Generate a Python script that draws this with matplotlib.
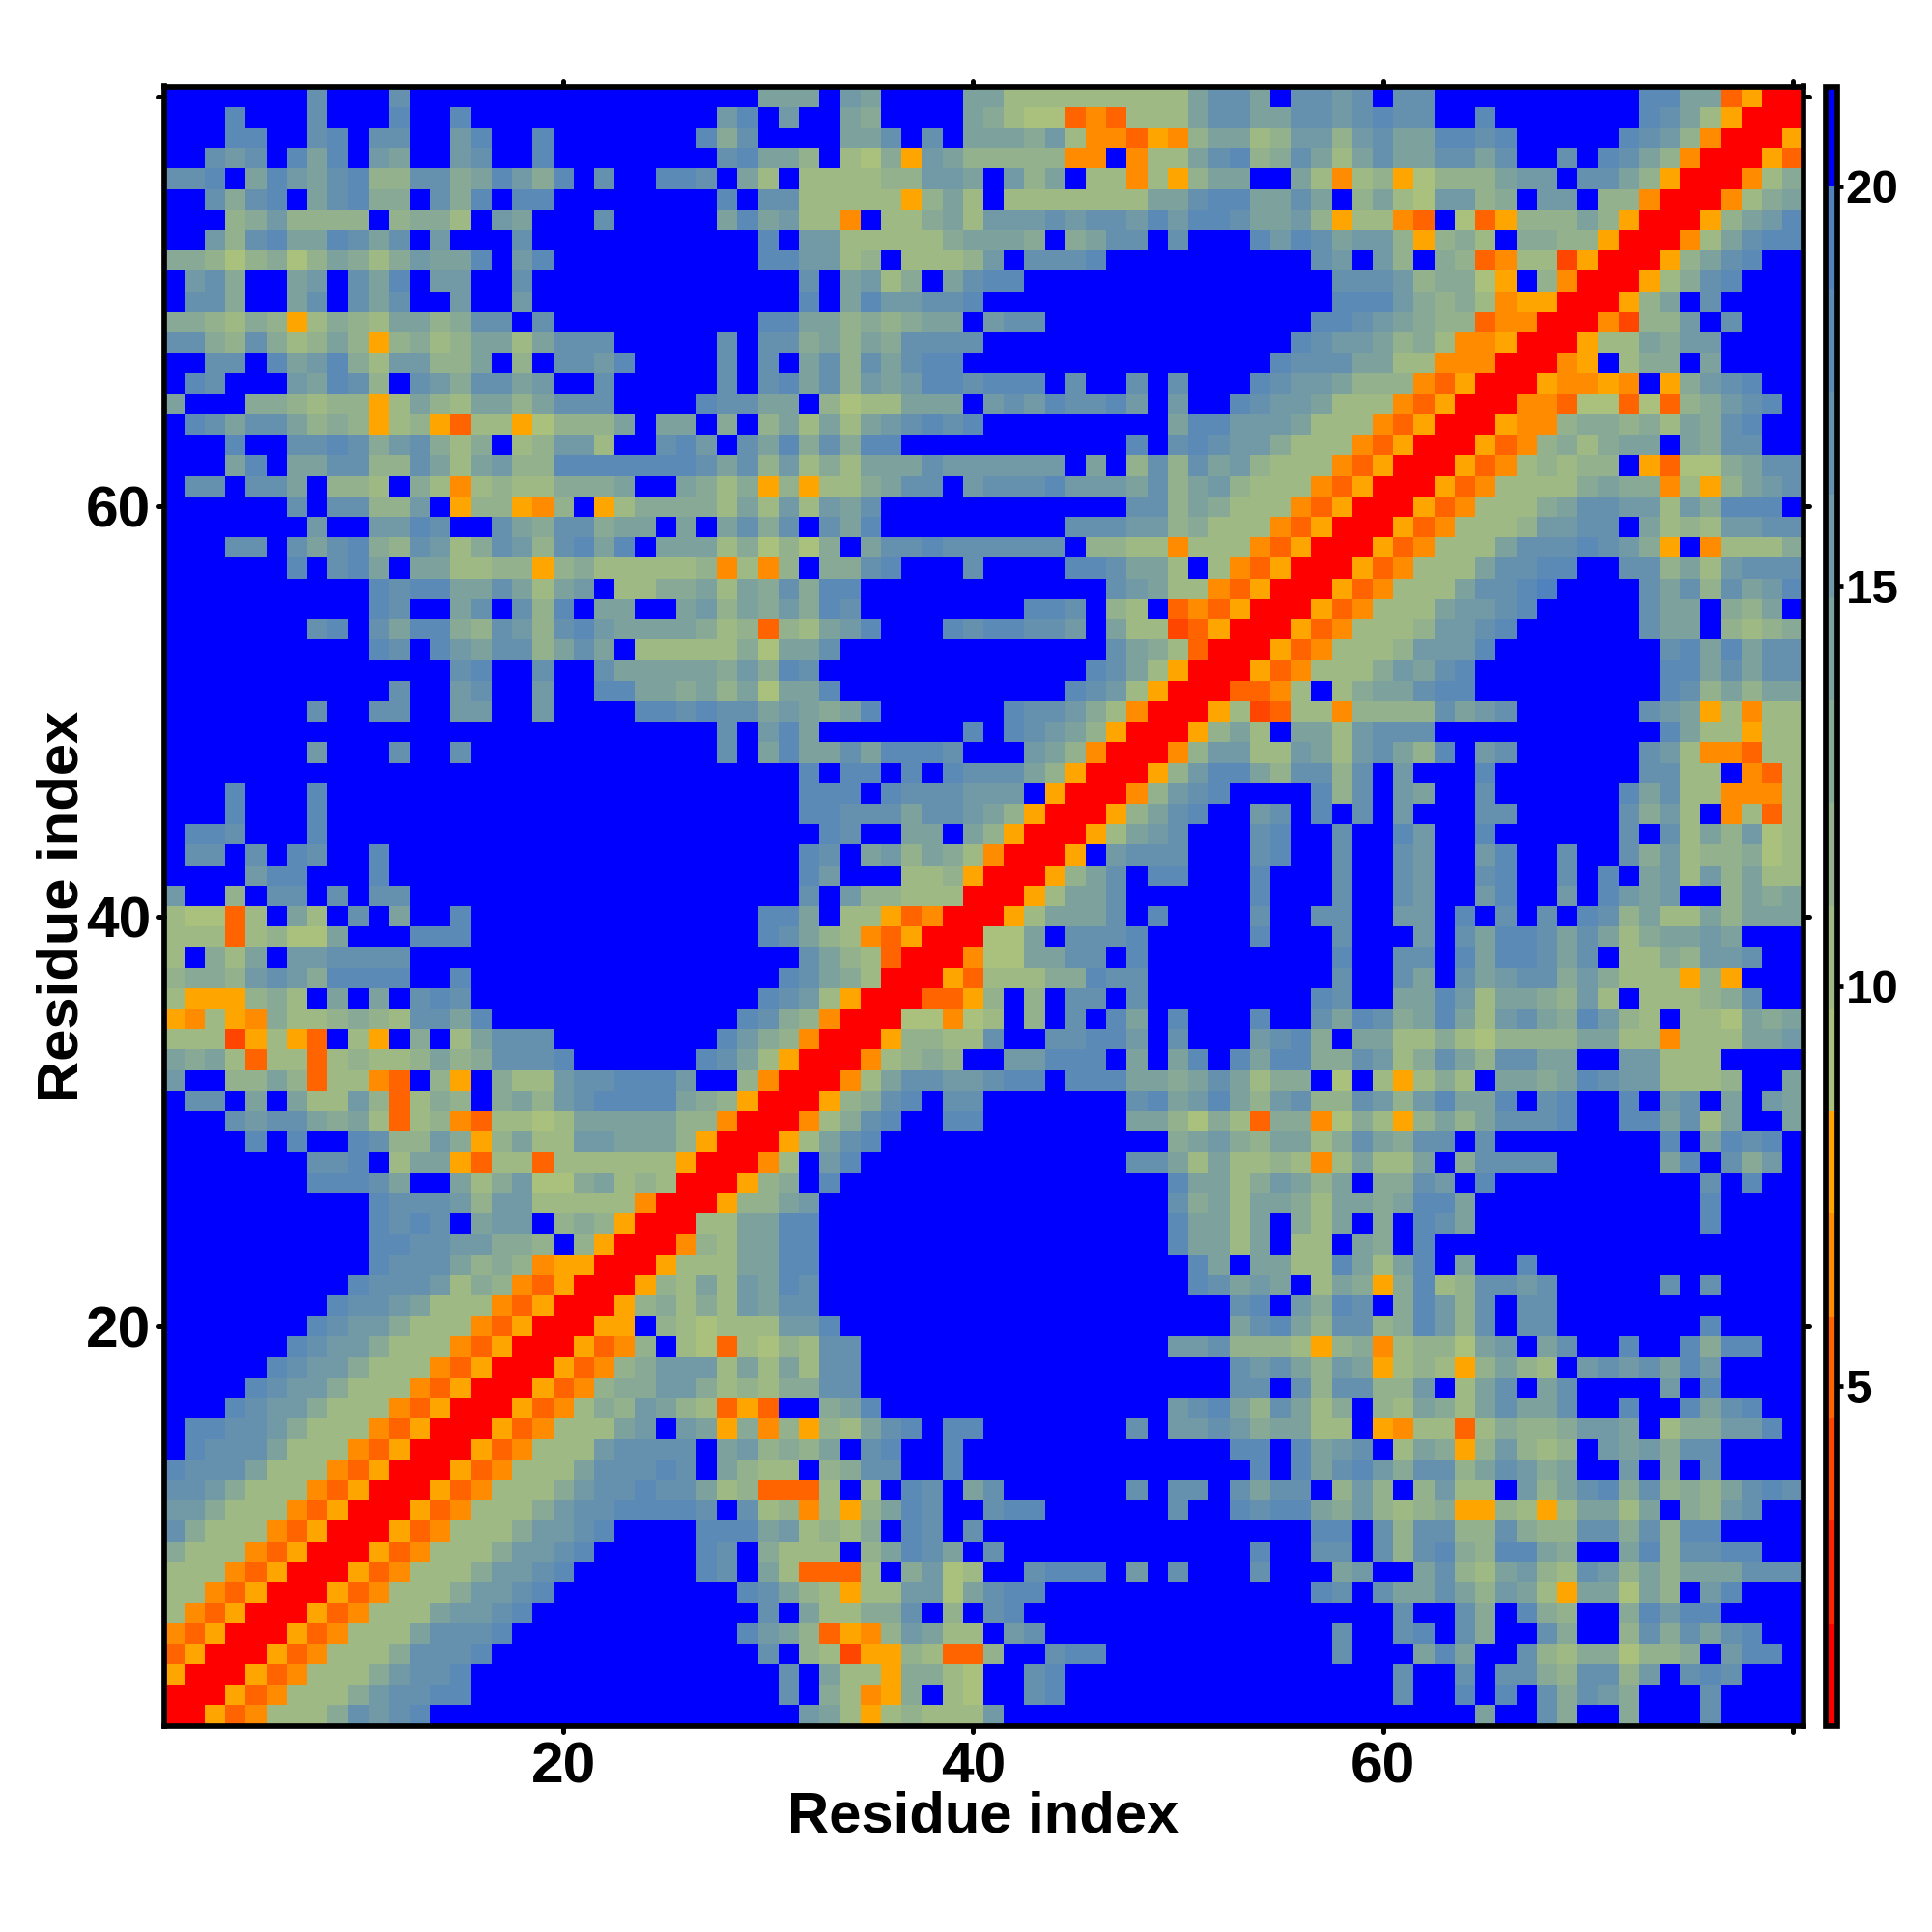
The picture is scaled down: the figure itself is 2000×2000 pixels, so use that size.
import numpy as np
import matplotlib
matplotlib.use("Agg")
import matplotlib.pyplot as plt
from matplotlib.colors import ListedColormap, BoundaryNorm
from matplotlib.markers import MarkerStyle, TICKLEFT, TICKRIGHT, TICKUP, TICKDOWN

plt.rcParams['font.family'] = ['Liberation Sans', 'DejaVu Sans']
plt.rcParams['font.weight'] = 'bold'

# distance classes, one hex digit per cell (0 = red ... f = blue)
# rows run from residue 80 down, columns from residue 1; spaces are only for reading
rows_80_54 = [
    "fffffffcfffcffffffffffffff fffaaafbaffffaa777777777acc afccbcfccffffffffffddaa3500",
    "fffdfffcfffdffdfffffffffff fbdfbffa9ffffa9766343777acc aaccbcdccffdfffffffdca75000",
    "fffddffcdfccffbdffdfffffff d9cffffaacfcfaaa9b7443548aa 78bb8bcaaddcdfffffdcb840005",
    "ffcbcfdadfbaffbcffdfffffff fcdaa8f7695ba8888844f477acd 89ca7acaaccacffcfdca8400053",
    "ccdfadbacd88cc9adb9dfcffdd cfa7f777788bbafb8af774758aa ffa747856888abbfcca85000479",
    "ffc9cdfacd99fc9dfddfffffff fdfcc7777758a7f7777777aacdd aacaf8a76bb89fbbf884000479a",
    "fff89b8888f8997fbafffcffff fadab774f779a7bbbcbccbdbddc aab857743f635888a8500058abd",
    "ffb8cdaadcacfbfffcffffffff fffdfbb777779aaa9f9accfcfff dbdcabb85897f9988500047acdd",
    "99868968a979baadfbdfffffff fffddbb78f7778bfcccdfffffff fffcbfb8f9834772500058acdff",
    "fbc9ffabfcadfbbffcffffffff fffffcfab79facddfffffffffff ffffcccb89965f84000579cdfff",
    "fcc9ffacfcacffbffbffffffff fffffdfadbbccdfffffffffffff ffffdddb989745500058afcffff",
    "99879857987aa89ccfcfffffff fffddaa8989aafbccffffffffff fffddcba9883440004288bfcfff",
    "cc98c978a858978aa7acccffff fcfcc9a8a9ccccfffffffffffff ffdcbba897445000577a9bbffff",
    "ffccfdabd97bb88af8fccbdfff fcfcfac8cacddffffffffffffff fdcccaa7744400045f799faffff",
    "fdcfffbadc8fcb9ccabffcffff fcfcdac8babddcdddfcffcfcfff dcbba88843500054454f59bcdff",
    "afff99878857a87aa8acccffff dccaaf8677aaafbcbdccdbfbffd cbba7774350004436636389bcdf",
    "fdcacca898578537756888afaa f9f8a7a7abcdcdfffffffffaddb bba777435000544899897a9cdff",
    "fffdffccdc9bc979f78bb7ffcd bfcad9c9ddfffffffffffdfcdcb b97774350005348979aafa9ccff",
    "fffadfaacc88ca7ab88ddddddd cac8b797aaacbbbbbbfaf8c8cab 877743500053478788f53669acc",
    "fccfccaf887f9747877999affa 979585779accfbcccdbbbac8ab8 77743500053477779a994758abc",
    "ffffffcfcc88bf588548f57999 97a7b7bacffffffffffffcc8a97 774350005347779accbb7b9dddf",
    "fffffffbffbbdcffca9cc9aafa fac9cfcadfffffffffcccbb8977 74350005347778bbccfa787bbcc",
    "fffccfcacd98cb79cb8cdadfaa a796869faccdccccccf88774777 435000534777acccdcb95f47779",
    "ffffffdfcdafaa778858977777 84748f99cdfffcffffddcaa7f74 35000534777accddffcc8a7bccc",
    "ffffffffffdcddaaca7abf7799 a7a9c9ddffffffffffffcba7743 5000534777accdeffffcac8cabd",
    "ffffffffffdcffacfc8dfaaffa b8a9b9dcffffffffddcf87f3435 000534777abbcdfffffcaaf98af",
    "fffffffcdfcadd98cb8cdbaaaa 978387abdfffdcddccbfa772350 005347778bbcdffffffcaaf8789",
]

rows_53_27 = [
    "ffffffffffdcfdbacc8acaf777 7796aacfffffffffffffca97300",
    "ffffffffffffffcdffcffcaaaa a9b9dcfffffffffffffdca75000",
    "fffffffffffcffbcffbffddaa9 a8a6aadfffffffffffdcb750003",
    "fffffffcffccffbbffbffffddc dccaba9adffffffdccb97400057",
    "ffffffffffffffffffffffffff fcfbdafffffffdfdcba8500058a",
    "fffffffbfffcffcfffffffffff fcfadaacadddcfffba8400048bb",
    "ffffffffffffffffffffffffff fffffdfddfdfdccca8500058bdd",
    "fffdfffdffffffffffffffffff fffffdddfdcccbbbf500048bcdf",
    "fffdfffdffffffffffffffffff fffffddcccaccba8500058acdff",
    "fddcfffdffffffffffffffffff ffffffdcffaafa8500057abcfff",
    "fccfcfdcffdfffffffffffffff fffffdcfab8a9740005fbcccfff",
    "ffffbddfffdfffffffffffffff fffffdbfff778500058acfddfff",
    "bff8fccfcfccffffffffffffff fffffcfb8877700057aacffffff",
    "76637fa7fcfaffdfffffffffff fffddaf7753400057aaacfdffff",
    "77737866afffdddfffffffffff fffdca8743500066afcccdfffff",
    "7f97afbbccccffffffffffffff fffffca873000466aaccfdfffff",
    "8998bcb9ddddffdfffffffffff ffffdca970005377799dccfffff",
    "7555897fafafcdcfffffffffff fffdcb750003358f8fccfcfffff",
    "547549778987ccadffffffffff ffdc98400066467f8fcfdafdfff",
    "77725753f75f9f7acccfffffff fdb98400058877cffccddbfcfff",
    "a9a7377378778a89cccdffffff dca7500047898ffbbdddfafadfd",
    "bff88a837743f85f977bccdddb ff84000 47accbbcddfdddaa9aca",
    "fccfafa77b83798f9a8bcdddda 985000589cdfccfffffffcdabda",
    "fffcbcca9a7378437767aaaaa8 84000479cdffddfffffffaa8697",
    "ffffdfdffdc88b958a77bbaaa8 500057acdffffffffffffff9ab9",
    "fffffffccdf7aa537737777775 00047fbdfffffffffffffcca7a7",
    "fffffffdddcaffa79b669a7870 0",
]

rows_26_1 = [
    "ffffffffffdcccb8bb77777400",
    "ffffffffffdcdcfabbf898500",
    "ffffffffffddccbb998f8500",
    "ffffffffffdccca89845500",
    "fffffffffdcccb79843500",
    "ffffffffdccba77743500",
    "fffffffdcbb977743500",
    "ffffffdcbb977743500",
    "fffffdcbb977743500",
    "ffffdcbb977743500",
    "fffdcbb977743500",
    "fddccb977743500",
    "fdccca77743500",
    "dccca77743500",
    "ccb977743500",
    "bb977743500",
    "c977743500",
    "977743500",
    "77743500",
    "7743500",
    "743500",
    "43500",
    "3500",
    "500",
    "00",
    "0",
]

# colour bar classes, lower edges
warm_bounds = [0.75, 2.03, 3.32, 4.6, 5.87, 7.16, 8.44]
cool_bounds = [9.72, 11.0, 12.29, 13.57, 14.86, 16.15, 17.43, 18.72, 20.0, 21.25]
level_colors = ["#FF0000", "#FF2400", "#FF4600", "#FF6400", "#FF8C00", "#FFA500",
                "#AAC17D", "#9FB985", "#93B18D", "#88A995", "#7DA19D",
                "#729AA6", "#6691AE", "#5B8AB6", "#5082BE", "#0000FF"]
residue_ticks = [20, 40, 60, 80]
residue_labels = ["20", "40", "60", ""]
scale_ticks = [5, 10, 15, 20]

bounds = warm_bounds + cool_bounds
mids = [(bounds[i] + bounds[i + 1]) / 2 for i in range(16)]

dist = np.full((80, 80), np.nan)
all_rows = rows_80_54 + rows_53_27 + rows_26_1
for n, row in enumerate(all_rows):
    y = 80 - n
    row = row.replace(" ", "")
    if y >= 54:
        assert len(row) == 80, (y, len(row))
    elif y >= 28:
        assert len(row) == 53, (y, len(row))
    else:
        assert len(row) >= y, (y, len(row))
    for j, ch in enumerate(row):
        dist[y - 1, j] = mids[int(ch, 16)]
# the map is a symmetric distance matrix, so the unread half comes from the read one
gaps = np.isnan(dist)
dist[gaps] = dist.T[gaps]

cmap = ListedColormap(level_colors)
norm = BoundaryNorm(bounds, cmap.N)


def px_axes(left, top, right, bottom):
    return fig.add_axes([left / 2000, 1 - bottom / 2000, (right - left) / 2000, (bottom - top) / 2000])


def round_ticks(ticks, marker1, marker2=None):
    for t in ticks:
        t.tick1line.set_marker(MarkerStyle(marker1, capstyle='round'))
        if marker2 is not None:
            t.tick2line.set_marker(MarkerStyle(marker2, capstyle='round'))


fig = plt.figure(figsize=(20, 20), dpi=100)
ax = px_axes(169.5, 89.5, 1866.5, 1786.5)
edges = np.arange(0.5, 81.5)
mesh = ax.pcolormesh(edges, edges, dist, cmap=cmap, norm=norm, antialiased=False, linewidth=0)
ax.set_xlim(0.5, 80.5)
ax.set_ylim(0.5, 80.5)
ax.set_xticks(residue_ticks, residue_labels)
ax.set_yticks(residue_ticks, residue_labels)
ax.tick_params(axis='x', top=True, length=4.5, width=3.6, pad=7, labelsize=43.5)
ax.tick_params(axis='y', right=True, length=4.5, width=3.6, pad=5, labelsize=43.5)
round_ticks(ax.xaxis.get_major_ticks(), TICKDOWN, TICKUP)
round_ticks(ax.yaxis.get_major_ticks(), TICKLEFT, TICKRIGHT)
for s in ax.spines.values():
    s.set_linewidth(4.1)
ax.set_xlabel("Residue index", fontsize=43, fontweight='bold', va='center')
ax.xaxis.set_label_coords(0.5, -0.0557)
ax.set_ylabel("Residue index", fontsize=43, fontweight='bold', va='center', ha='center')
ax.yaxis.set_label_coords(-0.0616, 0.5)

cax = px_axes(1889.5, 89.5, 1901.5, 1786.5)
cb = fig.colorbar(mesh, cax=cax, spacing='proportional', ticks=scale_ticks, drawedges=False)
cb.ax.minorticks_off()
cb.ax.tick_params(length=4.4, width=3.4, pad=2, labelsize=35.5)
round_ticks(cb.ax.yaxis.get_major_ticks(), TICKRIGHT)
cb.outline.set_linewidth(4.1)

fig.savefig("out.png", dpi=100)
